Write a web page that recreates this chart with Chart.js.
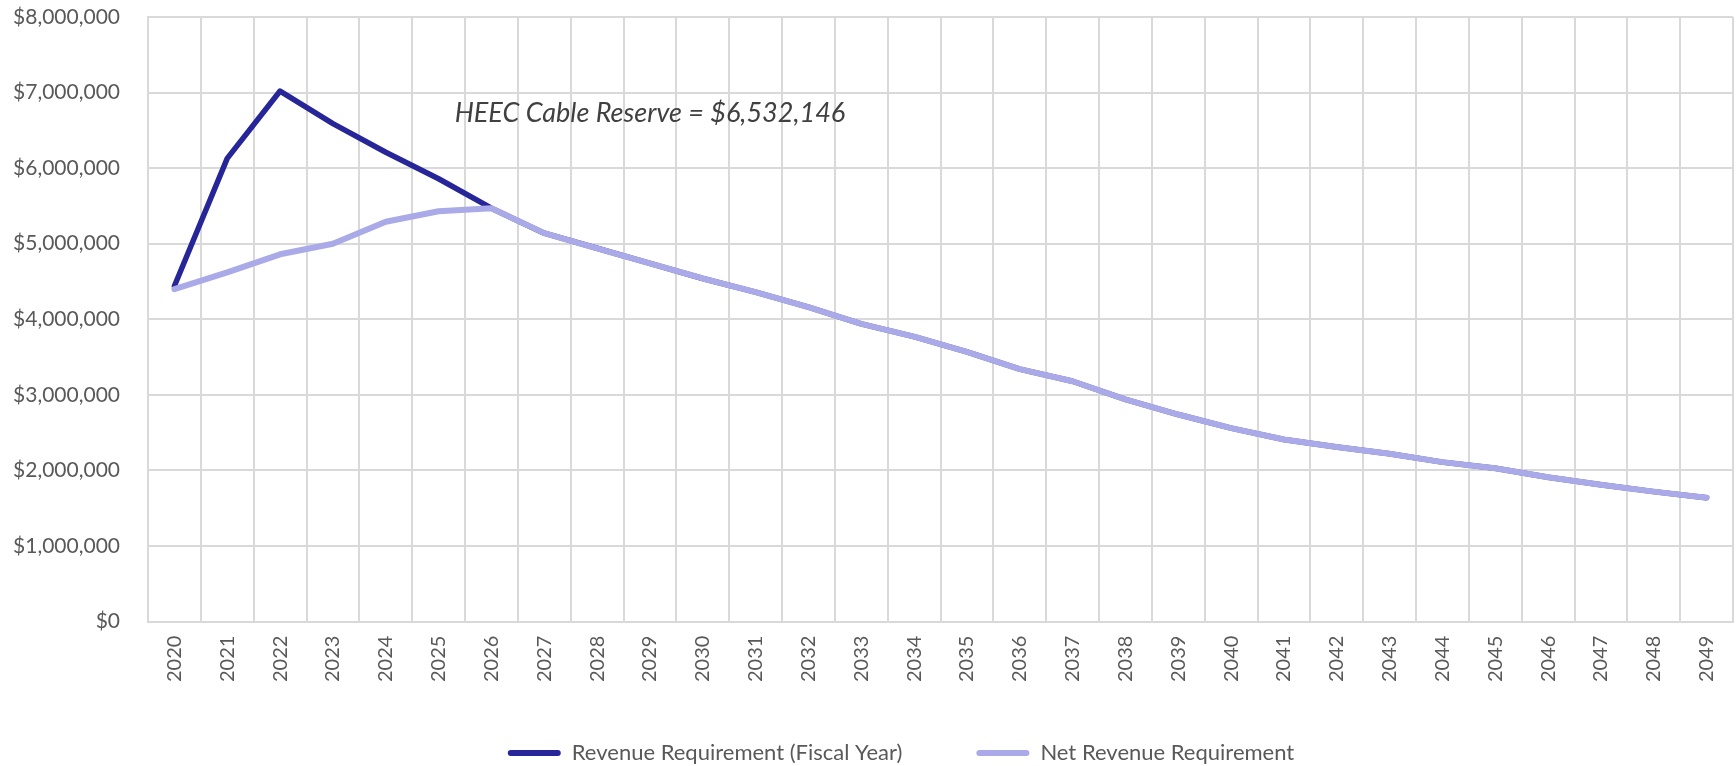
<!DOCTYPE html>
<html>
<head>
<meta charset="utf-8">
<script src="https://cdn.jsdelivr.net/npm/chart.js@4.4.1/dist/chart.umd.min.js"></script>
<style>
  html, body { margin: 0; padding: 0; background: #fff; }
  #wrap { width: 1736px; height: 766px; position: relative; }
</style>
</head>
<body>
<div id="wrap"><canvas id="chart"></canvas></div>
<script>
const years = ["2020", "2021", "2022", "2023", "2024", "2025", "2026", "2027", "2028", "2029",
  "2030", "2031", "2032", "2033", "2034", "2035", "2036", "2037", "2038", "2039",
  "2040", "2041", "2042", "2043", "2044", "2045", "2046", "2047", "2048", "2049"];

const revenueFiscal = [4440000, 6130000, 7020000, 6590000, 6210000, 5860000, 5470000, 5140000, 4940000, 4740000,
  4540000, 4360000, 4160000, 3940000, 3770000, 3570000, 3340000, 3180000, 2940000, 2740000,
  2560000, 2410000, 2310000, 2220000, 2110000, 2030000, 1910000, 1810000, 1720000, 1640000];

const netRevenue = [4400000, 4620000, 4860000, 5000000, 5290000, 5430000, 5470000, 5140000, 4940000, 4740000,
  4540000, 4360000, 4160000, 3940000, 3770000, 3570000, 3340000, 3180000, 2940000, 2740000,
  2560000, 2410000, 2310000, 2220000, 2110000, 2030000, 1910000, 1810000, 1720000, 1640000];

const seriesNames = ["Revenue Requirement (Fiscal Year)", "Net Revenue Requirement"];
const yTicks = [0, 1000000, 2000000, 3000000, 4000000, 5000000, 6000000, 7000000, 8000000];

const noteText = "HEEC Cable Reserve = $6,532,146";
const noteYear = "2029";
const noteValue = 6720000;

const gridColor = "#d9d9d9";
const textColor = "#595959";

// italic note written inside the plot
const notePlugin = {
  id: "note",
  afterDraw(chart) {
    const { ctx, scales } = chart;
    const x = scales.x.getPixelForValue(years.indexOf(noteYear));
    const y = scales.y.getPixelForValue(noteValue);
    ctx.save();
    ctx.font = "italic 27px Lato";
    ctx.fillStyle = "#404040";
    ctx.textAlign = "center";
    ctx.textBaseline = "middle";
    ctx.fillText(noteText, x, y);
    ctx.restore();
  }
};

// legend sits lower (and a bit more to the right) than the layout box gives it
const legendShift = {
  id: "legendShift",
  afterLayout(chart) {
    chart.legend.top = chart.height - 98;
    chart.legend.left += 58;
  }
};

new Chart(document.getElementById("chart"), {
  type: "line",
  data: {
    labels: years,
    datasets: [
      {
        label: seriesNames[0],
        data: revenueFiscal,
        borderColor: "#262699",
        backgroundColor: "#262699",
        borderWidth: 5.5,
        order: 1
      },
      {
        label: seriesNames[1],
        data: netRevenue,
        borderColor: "#aaaae8",
        backgroundColor: "#aaaae8",
        borderWidth: 6,
        order: 0
      }
    ]
  },
  options: {
    responsive: true,
    maintainAspectRatio: false,
    animation: false,
    elements: {
      line: { tension: 0, borderCapStyle: "round", borderJoinStyle: "round" },
      point: { radius: 0, hoverRadius: 0 }
    },
    layout: { padding: { left: 11, right: 3, top: 17, bottom: 0 } },
    scales: {
      x: {
        offset: true,
        grid: { color: gridColor, lineWidth: 2, offset: true, drawTicks: false },
        border: { color: gridColor, width: 2 },
        afterFit(scale) {
          scale.paddingLeft = 0;
          scale.paddingRight = 0;
        },
        ticks: {
          color: textColor,
          font: { family: "Lato", size: 20 },
          maxRotation: 90,
          minRotation: 90,
          padding: 14,
          autoSkip: false
        }
      },
      y: {
        min: 0,
        max: 8000000,
        afterBuildTicks(axis) { axis.ticks = yTicks.map(v => ({ value: v })); },
        afterFit(scale) {
          scale.width = 137;
          scale.paddingTop = 0;
          scale.paddingBottom = 0;
        },
        grid: { color: gridColor, lineWidth: 2, drawTicks: false },
        border: { color: gridColor, width: 2 },
        ticks: {
          color: textColor,
          font: { family: "Lato", size: 21 },
          padding: 28,
          callback: v => "$" + Number(v).toLocaleString("en-US")
        }
      }
    },
    plugins: {
      legend: {
        position: "bottom",
        maxHeight: 70,
        labels: {
          color: textColor,
          font: { family: "Lato", size: 22 },
          boxWidth: 53,
          boxHeight: 6,
          padding: 74,
          useBorderRadius: true,
          borderRadius: 3,
          sort: (a, b) => a.datasetIndex - b.datasetIndex,
          generateLabels(chart) {
            return Chart.defaults.plugins.legend.labels.generateLabels(chart).map(item => {
              item.lineWidth = 0;
              return item;
            });
          }
        }
      },
      tooltip: { enabled: false }
    }
  },
  plugins: [notePlugin, legendShift]
});
</script>
</body>
</html>
